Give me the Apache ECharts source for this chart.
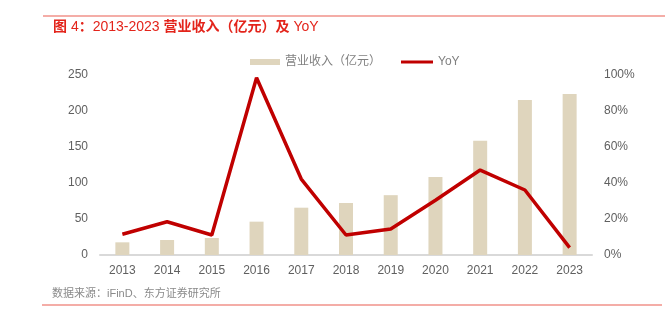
<!DOCTYPE html>
<html>
<head>
<meta charset="utf-8">
<script src="https://cdn.jsdelivr.net/npm/echarts@6/dist/echarts.min.js"></script>
<style>
html,body{margin:0;padding:0;background:#fff;}
#chart{width:672px;height:323px;}
</style>
</head>
<body>
<div id="chart"></div>
<script>
var years = ['2013','2014','2015','2016','2017','2018','2019','2020','2021','2022','2023'];
var revenue = [17.6, 20.8, 23.6, 46.3, 65.7, 72.2, 83.1, 108.3, 158.8, 215.3, 223.6];
var yoy = [11.5, 18.5, 11.1, 98.5, 42.2, 11.1, 14.4, 30.4, 47.2, 36.1, 4.1];
var leftTicks = {min: 0, max: 250, interval: 50};
var rightTicks = {min: 0, max: 100, interval: 20};
var titleText = '{b|图} {n|4}{b|：}{n|2013-2023} {b|营业收入（亿元）及} {n|YoY}';
var sourceText = '数据来源：iFinD、东方证券研究所';
var barName = '营业收入（亿元）';
var lineName = 'YoY';

var FONT = 'Arial, "Liberation Sans", "Noto Sans CJK SC", sans-serif';
var chart = echarts.init(document.getElementById('chart'), null, {renderer: 'canvas'});
var legendText = {color: '#808080', fontSize: 12, fontFamily: FONT};
chart.setOption({
  animation: false,
  backgroundColor: '#fff',
  textStyle: {fontFamily: FONT},
  graphic: [
    {type: 'line', shape: {x1: 43, y1: 16, x2: 665, y2: 16}, style: {stroke: '#f0928a', lineWidth: 1.5}},
    {type: 'text', left: 53, top: 20, style: {
      text: titleText, fill: '#e3241b', fontSize: 14, fontFamily: FONT,
      rich: {
        b: {fill: '#e3241b', fontSize: 14, fontWeight: 'bold', fontFamily: FONT},
        n: {fill: '#e3241b', fontSize: 14, fontWeight: 'normal', fontFamily: FONT}
      }
    }},
    {type: 'text', left: 52, top: 288, style: {text: sourceText, fill: '#8a8a8a', font: '11px ' + FONT}},
    {type: 'line', shape: {x1: 42, y1: 305, x2: 662, y2: 305}, style: {stroke: '#f0928a', lineWidth: 1.5}}
  ],
  legend: [
    {
      left: 245, top: 51,
      itemWidth: 30, itemHeight: 6,
      textStyle: legendText,
      data: [{name: barName, icon: 'rect'}]
    },
    {
      left: 396, top: 51,
      itemWidth: 32, itemHeight: 3,
      textStyle: legendText,
      data: [{name: lineName, icon: 'rect'}]
    }
  ],
  grid: {left: 100, right: 80, top: 75, bottom: 68},
  xAxis: {
    type: 'category', data: years, boundaryGap: true,
    axisTick: {show: false},
    axisLine: {lineStyle: {color: '#d9d9d9', width: 2}},
    axisLabel: {color: '#606060', fontSize: 12, margin: 10, fontFamily: FONT}
  },
  yAxis: [
    {
      type: 'value', min: leftTicks.min, max: leftTicks.max, interval: leftTicks.interval,
      splitLine: {show: false}, axisLine: {show: false}, axisTick: {show: false},
      axisLabel: {color: '#606060', fontSize: 12, margin: 12, fontFamily: FONT}
    },
    {
      type: 'value', min: rightTicks.min, max: rightTicks.max, interval: rightTicks.interval,
      splitLine: {show: false}, axisLine: {show: false}, axisTick: {show: false},
      axisLabel: {color: '#606060', fontSize: 12, margin: 12, formatter: '{value}%', fontFamily: FONT}
    }
  ],
  series: [
    {name: barName, type: 'bar', data: revenue, barWidth: 14, itemStyle: {color: '#dfd5bd'}},
    {name: lineName, type: 'line', yAxisIndex: 1, data: yoy, symbol: 'none', showSymbol: false,
     lineStyle: {color: '#c00000', width: 3.5}, itemStyle: {color: '#c00000'}}
  ]
});
</script>
</body>
</html>
